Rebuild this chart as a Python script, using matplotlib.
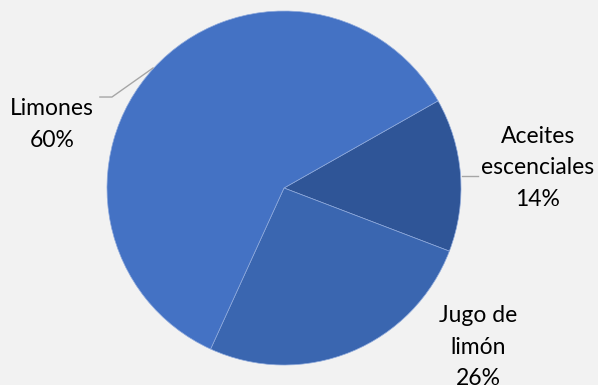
import matplotlib.pyplot as plt

# Datos del gráfico
categorias = ['Aceites\nescenciales', 'Jugo de\nlimón', 'Limones']
porcentajes = [14, 26, 60]
colores = ['#2F5597', '#3A66B0', '#4472C4']

fig = plt.figure(figsize=(5.98, 3.85), dpi=100, facecolor='#F2F2F2')
ax = fig.add_axes([107 / 598, 20 / 385, 354 / 598, 354 / 385])
ax.set_facecolor('#F2F2F2')

ax.pie(porcentajes, colors=colores, startangle=29.5, counterclock=False,
       radius=1, wedgeprops=dict(edgecolor='#8FAADC', linewidth=0.5))

ax.set_xlim(-1, 1)
ax.set_ylim(-1, 1)
ax.set_aspect('equal')
ax.axis('off')

# Etiquetas con nombre y porcentaje
estilo = dict(fontsize=16.5, family=['Lato', 'DejaVu Sans'], ha='center', va='center',
              linespacing=1.62, color='black', clip_on=False)
posiciones = [(1.435, 0.113), (1.096, -0.90), (-1.31, 0.36)]
for cat, pct, (x, y) in zip(categorias, porcentajes, posiciones):
    ax.text(x, y, f'{cat}\n{pct}%', **estilo)

# Líneas guía
ax.plot([-0.74, -0.972, -1.04], [0.678, 0.514, 0.514], color='#A6A6A6', lw=1, clip_on=False)
ax.plot([1.006, 1.096], [0.068, 0.068], color='#A6A6A6', lw=1, clip_on=False)

plt.savefig('out.png', dpi=100, facecolor=fig.get_facecolor())
